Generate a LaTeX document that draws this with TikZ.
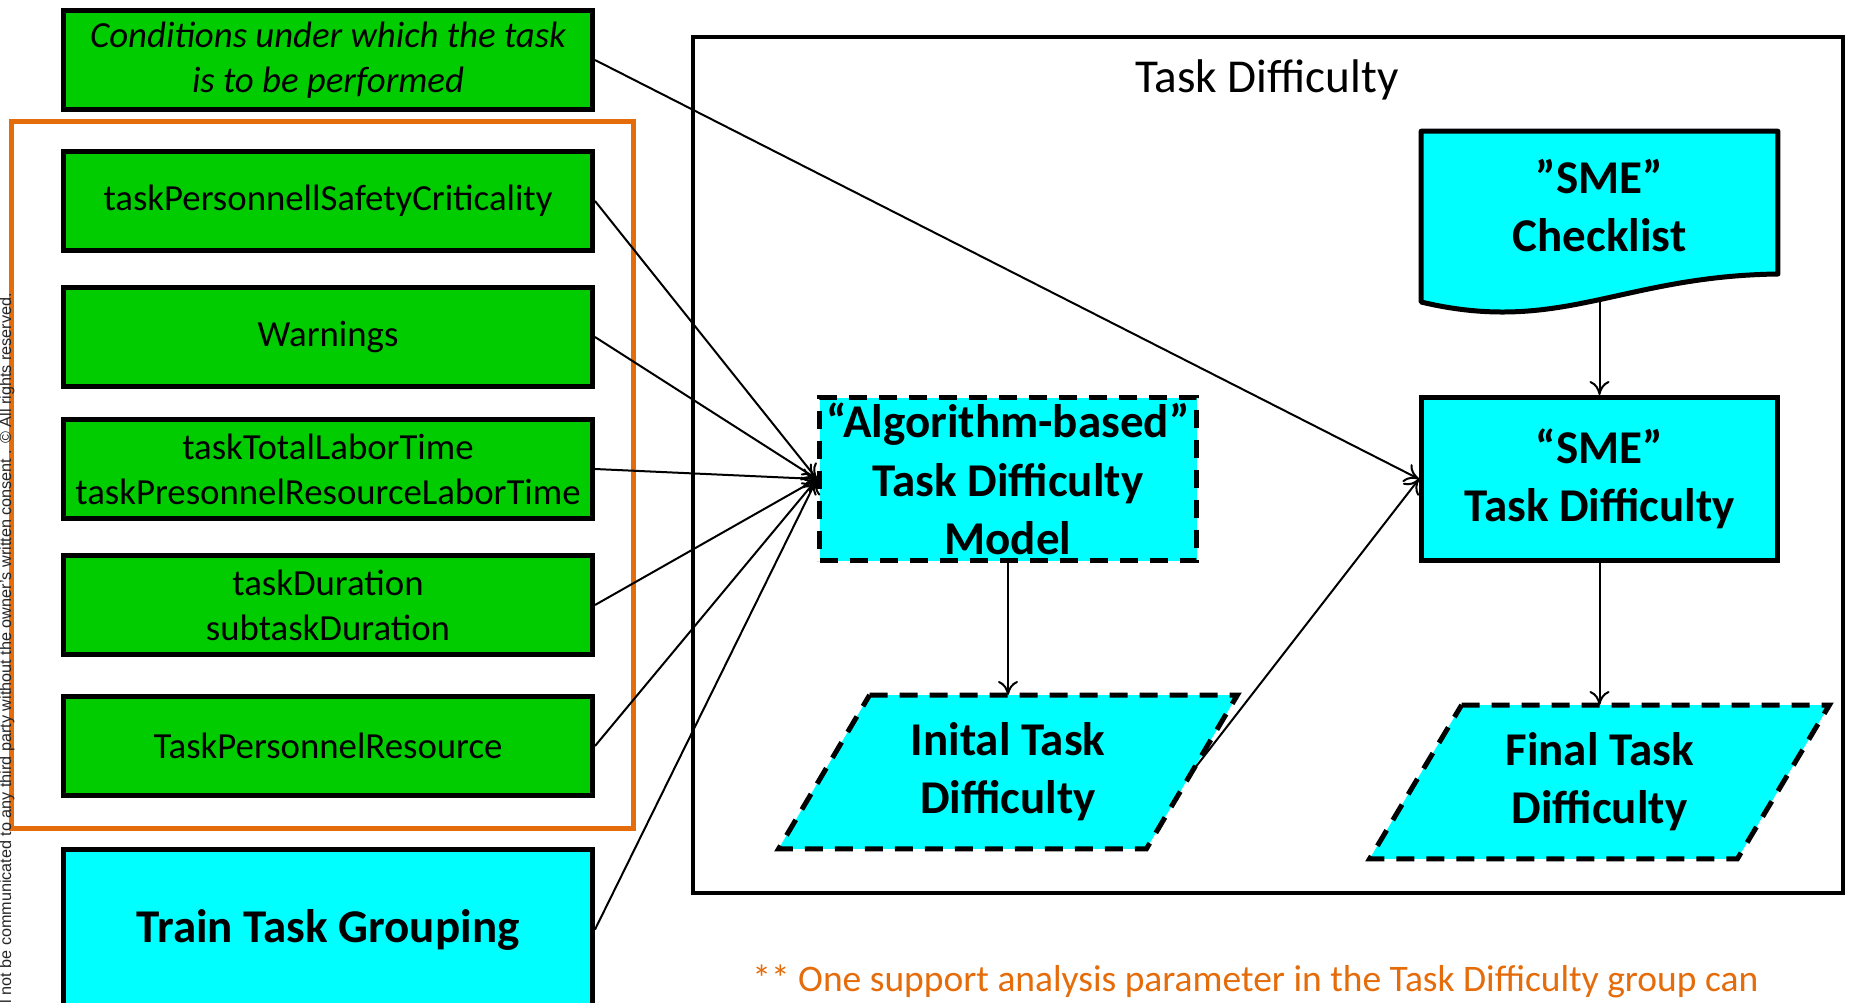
\documentclass[tikz,border=0pt]{standalone}
\usepackage{fontspec}
\setmainfont{Carlito}
\newfontfamily\notefont{Liberation Sans}
\usetikzlibrary{calc,positioning,arrows.meta,backgrounds}
\definecolor{boxgreen}{RGB}{0,204,0}
\definecolor{boxcyan}{RGB}{0,255,255}
\definecolor{noteorange}{RGB}{228,108,10}

\begin{document}
\begin{tikzpicture}[x=0.5pt, y=-0.5pt,
	param/.style = {draw, line width=2.5pt, fill=boxgreen, minimum width=264.5pt, minimum height=49.5pt, inner sep=0pt, align=center, font=\fontsize{18.4}{22.4}\selectfont},
	proc/.style = {draw, line width=2.5pt, fill=boxcyan, inner sep=0pt, align=center, font=\fontsize{23.5}{29.2}\selectfont\bfseries},
	dashbox/.style = {proc, dash pattern=on 9pt off 6pt},
	pgtext/.style = {inner sep=0pt, align=center, minimum width=183.5pt, minimum height=76.5pt, font=\fontsize{23.5}{29.2}\selectfont\bfseries},
	pgram/.style = {draw, line width=2.5pt, fill=boxcyan, dash pattern=on 9pt off 6pt},
	link/.style = {-{To[length=7pt,width=10pt]}, line width=1pt}]
	\useasboundingbox (0,0) rectangle (1851,1002);
	\draw[line width=2.25pt] (693,37) rectangle (1843,893);
	\draw[noteorange, line width=2.5pt] (11.5,121.5) rectangle (633.5,828.5);
	\node[anchor=base, inner sep=0pt, font=\fontsize{23.6}{28}\selectfont] (title) at (1267,92) {Task Difficulty};
	\node[param, font=\fontsize{18.4}{22.4}\selectfont\itshape] (cond) at (328,60) {Conditions under which the task\\is to be performed};
	\node[param] (safety) [below=18.5pt of cond] {taskPersonnellSafetyCriticality};
	\node[param] (warn) [below=16pt of safety] {Warnings};
	\node[param] (labor) [below=14pt of warn] {taskTotalLaborTime\\taskPresonnelResourceLaborTime};
	\node[param] (dur) [below=16pt of labor] {taskDuration\\subtaskDuration};
	\node[param] (res) [below=18.5pt of dur] {TaskPersonnelResource};
	\node[proc, minimum width=264.5pt, minimum height=80pt] (train) [below=24.5pt of res] {Train Task Grouping};
	\node[dashbox, minimum width=188.5pt, minimum height=81.5pt] (alg) at (1008,479) {“Algorithm-based”\\Task Difficulty\\Model};
	\node[proc, minimum width=178pt, minimum height=81.5pt] (sme) [right=110pt of alg] {“SME”\\Task Difficulty};
	\node[pgtext, minimum width=178pt, minimum height=74pt] (chk) [above=57.5pt of sme] {”SME”\\Checklist};
	\node[pgtext] (init) [below=66pt of alg] {Inital Task\\Difficulty};
	\node[pgtext] (final) [below=71pt of sme] {Final Task\\Difficulty};
	\coordinate (chkb) at ($(chk.south)+(0,22)$);
	\begin{scope}[on background layer]
		\draw[line width=2.5pt, fill=boxcyan, line join=round] (chk.north west) -- (chk.north east) -- ($(chk.south east)+(0,-6)$) .. controls ($(chk.south)+(20.5,-4)$) and ($(chk.south)+(-39.5,55)$) .. ($(chk.south west)+(0,22)$) -- cycle;
		\draw[pgram] ($(init.north west)+(45.5,0)$) -- ($(init.north east)+(45.5,0)$) -- ($(init.south east)+(-45.5,0)$) -- ($(init.south west)+(-45.5,0)$) -- cycle;
		\draw[pgram] ($(final.north west)+(46,0)$) -- ($(final.north east)+(46,0)$) -- ($(final.south east)+(-46,0)$) -- ($(final.south west)+(-46,0)$) -- cycle;
	\end{scope}
	\draw[link] (cond.east) -- (sme.west);
	\draw[link] (safety.east) -- (alg.west);
	\draw[link] (warn.east) -- (alg.west);
	\draw[link] (labor.east) -- (alg.west);
	\draw[link] (dur.east) -- (alg.west);
	\draw[link] (res.east) -- (alg.west);
	\draw[link] (train.east) -- (alg.west);
	\draw[link] (alg) -- (init);
	\draw[link] (init.east) -- (sme.west);
	\draw[link] (chkb) -- (sme);
	\draw[link] (sme) -- (final);
	\node[rotate=90, anchor=base west, inner sep=0pt, text=black!85, font=\notefont\fontsize{8.1}{9}\selectfont] (note) at (11,1004) {l not be communicated to any third party without the owner’s written consent . © All rights reserved.};
	\node[anchor=base west, inner sep=0pt, text=noteorange, font=\fontsize{18.75}{22.4}\selectfont] (remark) at (752,991) {** One support analysis parameter in the Task Difficulty group can};
\end{tikzpicture}
\end{document}
